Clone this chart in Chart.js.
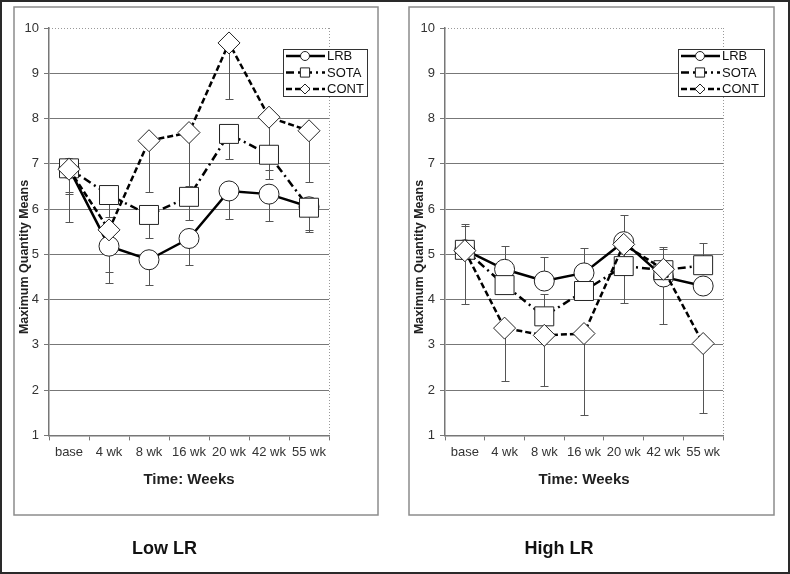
<!DOCTYPE html>
<html><head><meta charset="utf-8">
<script src="https://cdn.jsdelivr.net/npm/chart.js@4.4.1/dist/chart.umd.min.js"></script>
<style>
html,body{margin:0;padding:0;background:#fff;}
#wrap{position:relative;width:790px;height:574px;overflow:hidden;background:#fff;}
#c1{position:absolute;left:0;top:0;}
#c2{position:absolute;left:395px;top:0;}
#frame{position:absolute;left:0;top:0;width:790px;height:574px;box-sizing:border-box;border:2px solid #2a2a2a;pointer-events:none;}
</style></head><body>
<div id="wrap"><canvas id="c1" width="395" height="574"></canvas><canvas id="c2" width="395" height="574"></canvas><div id="frame"></div></div>
<script>
// ---- data ----
const categories = ['base', '4 wk', '8 wk', '16 wk', '20 wk', '42 wk', '55 wk'];
const seriesNames = ['LRB', 'SOTA', 'CONT'];
const chartTitles = ['Low LR', 'High LR'];
const yTitle = 'Maximum Quantity Means';
const xTitle = 'Time: Weeks';

// Low LR means
const lowLRB  = [6.90, 5.18, 4.88, 5.35, 6.40, 6.33, 6.05];
const lowSOTA = [6.90, 6.31, 5.87, 6.27, 7.66, 7.20, 6.03];
const lowCONT = [6.88, 5.54, 7.51, 7.69, 9.67, 8.03, 7.73];
// Low LR error-bar ends
const lowLRBErr  = [5.71, 4.60, 4.32, 4.76, 5.78, 5.73, 5.50];
const lowSOTAErr = [6.33, 5.82, 5.37, 5.76, 7.10, 6.66, 5.53];
const lowCONTErr = [6.37, 4.37, 6.38, 6.50, 8.43, 6.86, 6.60];

// High LR means
const highLRB  = [5.10, 4.67, 4.41, 4.59, 5.28, 4.50, 4.30];
const highSOTA = [5.10, 4.32, 3.63, 4.19, 4.74, 4.65, 4.76];
const highCONT = [5.08, 3.37, 3.21, 3.25, 5.22, 4.67, 3.03];
// High LR error-bar ends
const highLRBErr  = [5.67, 5.19, 4.95, 5.13, 5.87, 5.12, null];
const highSOTAErr = [5.63, null, 4.13, null, null, 5.17, 5.25];
const highCONTErr = [3.90, 2.20, 2.10, 1.44, 3.93, 3.47, 1.49];

const yMin = 1, yMax = 10, yStep = 1;

// ---- styles ----
const styles = [
  {dash: [], point: 'circle', radius: 10, legendRadius: 4.5, order: 3},
  {dash: [8, 4, 2, 4], point: 'rect', radius: 13.4, legendRadius: 6.5, order: 2},
  {dash: [6, 3], point: 'rectRot', radius: 11, legendRadius: 5, order: 1}
];

function makeDatasets(vals, errs) {
  return vals.map((v, i) => ({
    label: seriesNames[i],
    data: v,
    errEnd: errs[i],
    borderColor: '#000',
    borderWidth: 2.5,
    borderDash: styles[i].dash,
    borderCapStyle: 'butt',
    pointStyle: styles[i].point,
    pointRadius: styles[i].radius,
    pointHoverRadius: styles[i].radius,
    pointBackgroundColor: '#fff',
    pointBorderColor: '#222',
    pointBorderWidth: 1,
    legendRadius: styles[i].legendRadius,
    order: styles[i].order,
    fill: false,
    tension: 0
  }));
}

const framePlugin = {
  id: 'frame',
  beforeDraw(chart, args, opts) {
    const ctx = chart.ctx;
    ctx.save();
    ctx.strokeStyle = '#8c8c8c';
    ctx.lineWidth = 1.5;
    ctx.strokeRect(opts.x, opts.y, opts.w, opts.h);
    ctx.restore();
  },
  beforeDatasetsDraw(chart) {
    const {ctx, chartArea: a} = chart;
    ctx.save();
    ctx.strokeStyle = '#999';
    ctx.lineWidth = 1;
    ctx.setLineDash([1, 2]);
    ctx.beginPath();
    ctx.moveTo(a.left, a.top + 0.5);
    ctx.lineTo(a.right, a.top + 0.5);
    ctx.moveTo(a.right + 0.5, a.top);
    ctx.lineTo(a.right + 0.5, a.bottom);
    ctx.stroke();
    ctx.restore();
    // error bars (drawn behind markers)
    const xs = chart.scales.x, ys = chart.scales.y;
    ctx.save();
    ctx.strokeStyle = '#555';
    ctx.lineWidth = 1;
    chart.data.datasets.forEach(ds => {
      ds.data.forEach((v, i) => {
        const e = ds.errEnd[i];
        if (e === null || e === undefined) return;
        const x = Math.round(xs.getPixelForValue(i)) + 0.5;
        const y0 = ys.getPixelForValue(v);
        const y1 = Math.round(ys.getPixelForValue(e)) + 0.5;
        ctx.beginPath();
        ctx.moveTo(x, y0);
        ctx.lineTo(x, y1);
        ctx.moveTo(x - 4, y1);
        ctx.lineTo(x + 4, y1);
        ctx.stroke();
      });
    });
    ctx.restore();
  },
  afterDatasetsDraw(chart, args, opts) {
    // legend box
    const ctx = chart.ctx;
    const lx = opts.lx, ly = opts.ly, lw = opts.lw, lh = 47;
    ctx.save();
    ctx.fillStyle = '#fff';
    ctx.fillRect(lx, ly, lw, lh);
    ctx.strokeStyle = '#333';
    ctx.lineWidth = 1;
    ctx.strokeRect(lx + 0.5, ly + 0.5, lw, lh);
    chart.data.datasets.forEach((ds, i) => {
      const y = ly + 7 + i * 16.5;
      ctx.strokeStyle = '#000';
      ctx.lineWidth = 2.5;
      ctx.setLineDash(ds.borderDash);
      ctx.beginPath();
      ctx.moveTo(lx + 3, y);
      ctx.lineTo(lx + 42, y);
      ctx.stroke();
      ctx.setLineDash([]);
      ctx.fillStyle = '#fff';
      ctx.strokeStyle = '#222';
      ctx.lineWidth = 1;
      Chart.helpers.drawPoint(ctx, {pointStyle: ds.pointStyle, radius: ds.legendRadius, rotation: 0, borderWidth: 1}, lx + 22, y);
      ctx.fillStyle = '#111';
      ctx.font = '13px "Liberation Sans", Arial, sans-serif';
      ctx.textBaseline = 'middle';
      ctx.textAlign = 'left';
      ctx.fillText(ds.label, lx + 44, y + 0.5);
    });
    ctx.restore();
    // y-axis title (centred on the panel)
    ctx.save();
    ctx.translate(opts.ytx, opts.yty);
    ctx.rotate(-Math.PI / 2);
    ctx.fillStyle = '#222';
    ctx.font = 'bold 12.5px "Liberation Sans", Arial, sans-serif';
    ctx.textAlign = 'center';
    ctx.textBaseline = 'middle';
    ctx.fillText(yTitle, 0, 0);
    ctx.restore();
  }
};

function makeChart(id, title, vals, errs, pad, yWidth, frame, legend) {
  return new Chart(document.getElementById(id), {
    type: 'line',
    data: {labels: categories, datasets: makeDatasets(vals, errs)},
    plugins: [framePlugin],
    options: {
      responsive: false,
      animation: false,
      devicePixelRatio: 1,
      layout: {padding: pad},
      plugins: {
        legend: {display: false},
        tooltip: {enabled: false},
        title: {display: true, text: title, position: 'bottom', color: '#111',
          font: {family: '"Liberation Sans", Arial, sans-serif', size: 18, weight: 'bold'},
          padding: {top: 0, bottom: 0}},
        frame: Object.assign({}, frame, legend)
      },
      scales: {
        x: {
          offset: true,
          afterFit(s) { s.height = 103; },
          grid: {display: true, drawOnChartArea: false, drawTicks: true, tickLength: 5, offset: true, color: '#777'},
          border: {display: true, color: '#777', width: 1.5},
          ticks: {color: '#333', padding: 4, maxRotation: 0, autoSkip: false,
            font: {family: '"Liberation Sans", Arial, sans-serif', size: 13}},
          title: {display: true, text: xTitle, color: '#222',
            font: {family: '"Liberation Sans", Arial, sans-serif', size: 15, weight: 'bold'},
            padding: {top: 0, bottom: 50}}
        },
        y: {
          min: yMin, max: yMax,
          afterFit(s) { s.width = yWidth; },
          grid: {color: c => (c.tick && c.tick.value === yMax) ? 'rgba(0,0,0,0)' : '#777',
            tickColor: '#777', lineWidth: 1, drawTicks: true, tickLength: 5},
          border: {display: true, color: '#777', width: 1.5},
          ticks: {stepSize: yStep, color: '#333', padding: 5,
            font: {family: '"Liberation Sans", Arial, sans-serif', size: 13}}
        }
      }
    }
  });
}

makeChart('c1', chartTitles[0], [lowLRB, lowSOTA, lowCONT], [lowLRBErr, lowSOTAErr, lowCONTErr],
  {left: 0, right: 66, top: 28, bottom: 14}, 49,
  {x: 14, y: 7, w: 364, h: 508}, {lx: 283, ly: 49, lw: 84, ytx: 25, yty: 257});
makeChart('c2', chartTitles[1], [highLRB, highSOTA, highCONT], [highLRBErr, highSOTAErr, highCONTErr],
  {left: 0, right: 67, top: 28, bottom: 14}, 50,
  {x: 14, y: 7, w: 365, h: 508}, {lx: 283, ly: 49, lw: 86, ytx: 25, yty: 257});
</script>
</body></html>
